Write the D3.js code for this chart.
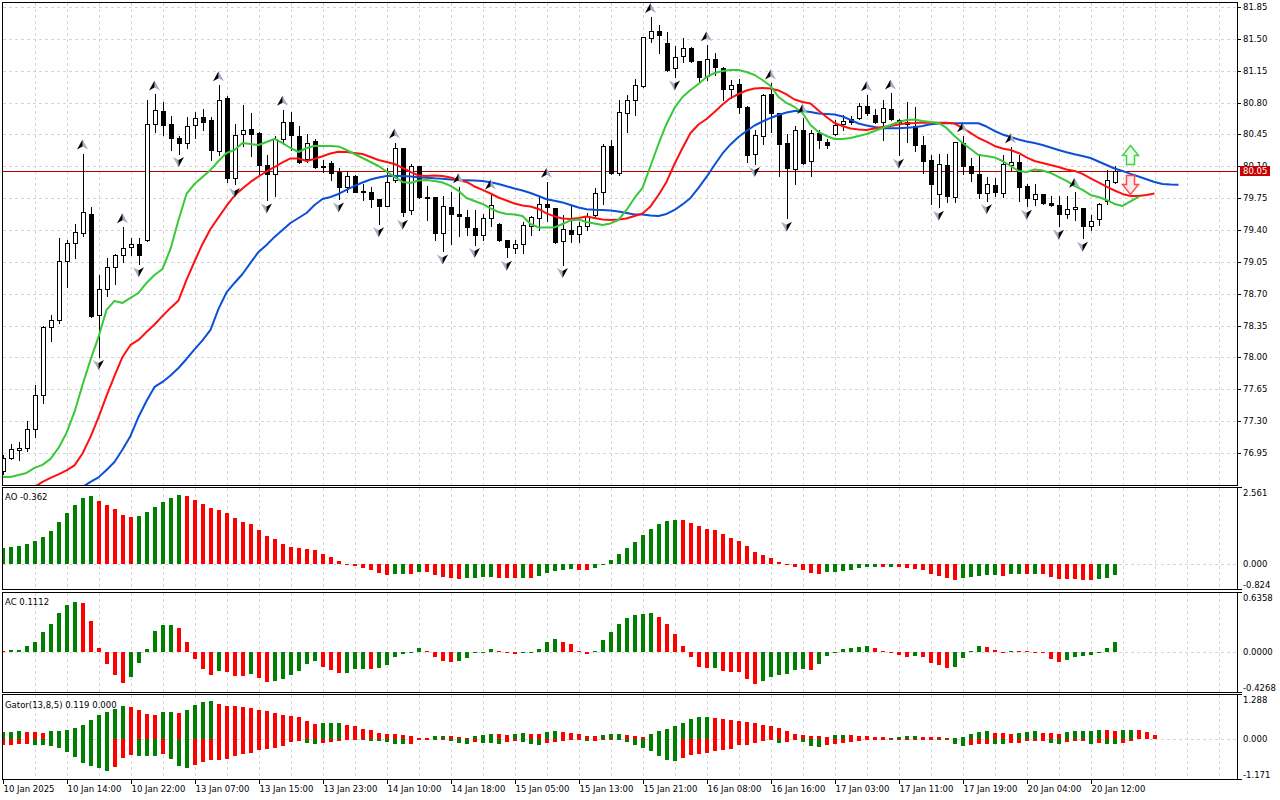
<!DOCTYPE html>
<html>
<head>
<meta charset="utf-8">
<script src="https://cdn.jsdelivr.net/npm/d3@7"></script>
<style>
  body { margin: 0; background: #fff; }
  text { font-family: "DejaVu Sans", Tahoma, sans-serif; font-size: 8.5px; fill: #000; }
</style>
</head>
<body>
<svg id="chart" width="1280" height="800"></svg>
<script>
// ---- data (hourly bars, index 0 = 10 Jan 06:00) ----
// [open, high, low, close]
var ohlc = [
  [76.75,76.93,76.72,76.89],[76.89,77.05,76.88,76.99],[76.98,77.07,76.87,77.01],[77.00,77.30,76.97,77.21],
  [77.21,77.70,77.13,77.59],[77.59,78.34,77.50,78.33],[78.33,78.47,78.18,78.41],[78.41,79.31,78.38,79.06],
  [79.06,79.29,78.77,79.26],[79.26,79.47,79.09,79.38],[79.37,80.24,79.33,79.60],[79.58,79.65,78.44,78.45],
  [78.47,78.91,78.01,78.75],[78.75,79.09,78.68,78.99],[78.99,79.14,78.81,79.12],[79.12,79.43,79.05,79.20],
  [79.21,79.31,79.13,79.25],[79.25,79.31,79.03,79.13],[79.29,80.83,79.28,80.56],[80.56,80.89,80.48,80.72],
  [80.71,80.81,80.44,80.55],[80.56,80.65,80.28,80.41],[80.41,80.43,80.24,80.36],[80.36,80.64,80.30,80.54],
  [80.55,80.70,80.41,80.63],[80.64,80.73,80.50,80.59],[80.61,80.64,80.17,80.28],[80.27,80.99,80.22,80.83],
  [80.85,80.87,79.93,79.97],[79.97,80.57,79.90,80.44],[80.45,80.77,80.32,80.50],[80.51,80.68,80.21,80.46],
  [80.47,80.48,80.02,80.11],[80.11,80.22,79.73,80.02],[80.01,80.43,79.77,80.40],[80.40,80.72,80.35,80.59],
  [80.59,80.70,80.28,80.44],[80.43,80.54,80.14,80.15],[80.18,80.46,80.15,80.36],[80.38,80.40,80.08,80.09],
  [80.10,80.17,80.04,80.09],[80.14,80.16,79.95,80.03],[80.04,80.08,79.74,79.87],[79.87,80.04,79.82,79.99],
  [79.99,80.00,79.82,79.82],[79.83,79.90,79.73,79.82],[79.82,79.87,79.65,79.74],[79.74,79.74,79.47,79.66],
  [79.66,80.08,79.66,79.93],[79.95,80.36,79.93,80.30],[80.30,80.30,79.55,79.60],[79.62,80.13,79.58,80.10],
  [80.10,80.10,79.75,79.76],[79.76,79.88,79.51,79.75],[79.76,79.76,79.29,79.37],[79.37,79.77,79.17,79.66],
  [79.65,79.82,79.25,79.58],[79.58,79.87,79.33,79.55],[79.54,79.62,79.35,79.43],[79.42,79.62,79.24,79.35],
  [79.35,79.58,79.29,79.53],[79.53,79.80,79.44,79.67],[79.47,79.48,79.28,79.29],[79.29,79.29,79.10,79.21],
  [79.20,79.29,79.15,79.25],[79.25,79.49,79.15,79.46],[79.44,79.55,79.35,79.54],[79.53,79.77,79.40,79.69],
  [79.69,79.93,79.50,79.65],[79.64,79.64,79.26,79.27],[79.28,79.57,79.02,79.41],[79.40,79.66,79.27,79.36],
  [79.36,79.49,79.27,79.44],[79.44,79.59,79.40,79.55],[79.56,79.86,79.55,79.81],[79.82,80.35,79.69,80.32],
  [80.32,80.39,80.01,80.03],[80.03,80.83,80.00,80.70],[80.69,80.88,80.48,80.83],[80.83,81.06,80.66,80.99],
  [80.98,81.52,80.97,81.52],[81.51,81.74,81.46,81.59],[81.59,81.65,81.35,81.54],[81.45,81.58,81.15,81.16],
  [81.18,81.42,81.08,81.30],[81.31,81.51,81.25,81.40],[81.40,81.41,81.25,81.26],[81.26,81.26,81.04,81.08],
  [81.09,81.43,81.05,81.28],[81.28,81.35,81.10,81.19],[81.18,81.19,80.83,80.95],[80.95,81.05,80.85,80.99],
  [81.00,81.06,80.69,80.75],[80.75,80.76,80.15,80.22],[80.23,80.50,80.13,80.44],[80.43,80.89,80.35,80.88],
  [80.89,81.01,80.48,80.69],[80.68,80.69,79.99,80.35],[80.36,80.46,79.53,80.08],[80.07,80.54,79.91,80.50],
  [80.50,80.63,80.13,80.14],[80.16,80.50,79.99,80.47],[80.47,80.50,80.30,80.39],[80.37,80.40,80.30,80.33],
  [80.46,80.61,80.44,80.55],[80.56,80.66,80.50,80.60],[80.62,80.65,80.57,80.59],[80.63,80.79,80.62,80.76],
  [80.76,80.88,80.66,80.68],[80.66,80.73,80.58,80.59],[80.59,80.83,80.39,80.74],[80.73,80.90,80.61,80.62],
  [80.61,80.62,80.22,80.59],[80.59,80.81,80.37,80.57],[80.54,80.75,80.27,80.33],[80.33,80.43,80.03,80.16],
  [80.17,80.22,79.69,79.91],[79.80,80.24,79.65,80.13],[80.11,80.24,79.71,79.77],[79.76,80.37,79.71,80.37],
  [80.36,80.43,80.02,80.10],[80.10,80.19,79.94,80.03],[80.02,80.24,79.75,79.81],[79.81,79.98,79.72,79.90],
  [79.89,79.97,79.77,79.82],[79.81,80.22,79.76,80.13],[80.11,80.31,80.06,80.15],[80.15,80.22,79.72,79.87],
  [79.88,79.91,79.66,79.75],[79.74,79.90,79.68,79.80],[79.80,79.80,79.69,79.70],[79.70,79.77,79.66,79.68],
  [79.68,79.77,79.44,79.58],[79.58,79.77,79.53,79.63],[79.63,79.82,79.51,79.65],[79.64,79.64,79.31,79.44],
  [79.44,79.57,79.40,79.50],[79.52,79.70,79.46,79.69],[79.72,80.06,79.69,79.95],[79.93,80.10,79.92,80.05]
];
var lastPrice = 80.05;

// Alligator lines (already shifted as drawn); first bar index of each
var lipsFrom = 0;
var lips = [
  76.687,76.687,76.709,76.731,76.786,76.819,76.885,77.006,77.170,77.401,
  77.698,77.973,78.225,78.522,78.621,78.599,78.654,78.708,78.818,78.906,
  78.972,79.192,79.510,79.796,79.906,79.983,80.060,80.158,80.246,80.279,
  80.356,80.345,80.334,80.367,80.400,80.356,80.301,80.257,80.301,80.323,
  80.323,80.323,80.318,80.279,80.235,80.191,80.147,80.103,80.043,79.983,
  79.928,79.917,79.944,79.950,79.939,79.922,79.884,79.829,79.752,79.719,
  79.686,79.637,79.598,79.576,79.571,79.554,79.466,79.428,79.428,79.428,
  79.466,79.505,79.516,79.488,79.472,79.455,79.472,79.510,79.620,79.752,
  79.862,80.103,80.345,80.565,80.741,80.861,80.938,81.004,81.081,81.125,
  81.147,81.158,81.158,81.136,81.103,81.048,80.982,80.861,80.796,80.752,
  80.686,80.554,80.477,80.433,80.400,80.400,80.411,80.433,80.455,80.488,
  80.521,80.554,80.587,80.609,80.614,80.598,80.587,80.576,80.521,80.433,
  80.356,80.290,80.224,80.213,80.197,80.158,80.103,80.049,80.038,80.065,
  80.054,80.027,79.983,79.939,79.884,79.840,79.785,79.763,79.730,79.686,
  79.664,79.714,79.763
];
var teethFrom = 3;
var teeth = [
  76.544,76.577,76.632,76.676,76.715,76.759,76.814,
  76.945,77.127,77.341,77.577,77.797,78.005,78.137,78.192,78.280,78.362,
  78.456,78.544,78.626,78.851,79.054,79.247,79.411,79.538,79.664,79.779,
  79.856,79.928,79.988,80.043,80.092,80.142,80.186,80.186,80.158,80.180,
  80.210,80.240,80.260,80.257,80.246,80.235,80.202,80.169,80.147,80.125,
  80.082,80.038,79.999,79.994,79.999,79.994,79.977,79.950,79.928,79.878,
  79.840,79.801,79.757,79.724,79.691,79.670,79.659,79.631,79.582,79.549,
  79.527,79.521,79.532,79.549,79.532,79.516,79.510,79.516,79.527,79.554,
  79.582,79.659,79.785,79.928,80.125,80.301,80.466,80.559,80.620,80.697,
  80.779,80.850,80.894,80.933,80.955,80.960,80.955,80.933,80.889,80.834,
  80.806,80.790,80.713,80.642,80.576,80.543,80.515,80.504,80.499,80.515,
  80.532,80.543,80.559,80.573,80.576,80.581,80.579,80.579,80.579,80.570,
  80.521,80.466,80.411,80.370,80.323,80.296,80.279,80.246,80.197,80.158,
  80.136,80.114,80.092,80.065,80.049,80.016,79.968,79.922,79.876,79.834,
  79.796,79.774,79.774,79.785,79.801
];
var jawFrom = 10;
var jaw = [
  76.577,76.632,76.682,76.764,76.852,76.989,77.138,77.346,77.522,77.676,
  77.731,77.802,77.884,77.983,78.088,78.187,78.302,78.533,78.714,78.818,
  78.917,79.038,79.159,79.236,79.324,79.401,79.477,79.532,79.587,79.675,
  79.741,79.763,79.796,79.840,79.884,79.922,79.955,79.977,79.994,79.994,
  79.994,79.988,79.979,79.975,79.968,79.963,79.956,79.950,79.947,79.944,
  79.939,79.924,79.906,79.881,79.856,79.834,79.807,79.774,79.738,79.722,
  79.703,79.675,79.648,79.628,79.623,79.620,79.615,79.604,79.587,79.571,
  79.571,79.560,79.554,79.576,79.620,79.681,79.752,79.862,79.983,80.114,
  80.241,80.340,80.422,80.488,80.548,80.592,80.631,80.664,80.691,80.708,
  80.708,80.697,80.680,80.675,80.669,80.647,80.609,80.570,80.548,80.532,
  80.518,80.518,80.518,80.524,80.529,80.543,80.562,80.570,80.573,80.573,
  80.573,80.573,80.573,80.537,80.488,80.450,80.422,80.395,80.373,80.356,
  80.334,80.307,80.279,80.254,80.232,80.213,80.191,80.153,80.114,80.076,
  80.049,80.016,79.988,79.957,79.928,79.906,79.900,79.898
];

// Bill Williams fractals (bar indices)
var fractalsUp = [10,15,19,27,35,49,57,61,68,81,88,96,100,108,111,120,126,134];
var fractalsDown = [12,17,22,29,33,42,47,50,55,59,63,70,84,94,98,112,117,123,128,132,135];

// signal arrows at the right end
var buySignals = [{ bar: 141, price: 80.12 }];
var sellSignals = [{ bar: 141, price: 80.00 }];

// Awesome Oscillator
var ao = [
  0.56,0.59,0.63,0.68,0.78,0.93,1.12,1.43,1.72,1.99,
  2.23,2.29,2.13,1.99,1.85,1.65,1.59,1.62,1.77,1.94,
  2.10,2.21,2.32,2.29,2.15,2.02,1.89,1.82,1.72,1.55,
  1.42,1.34,1.15,0.95,0.85,0.70,0.59,0.54,0.51,0.48,
  0.35,0.26,0.11,0.01,-0.04,-0.11,-0.20,-0.29,-0.36,-0.32,
  -0.31,-0.32,-0.25,-0.27,-0.36,-0.41,-0.45,-0.49,-0.47,-0.45,
  -0.42,-0.41,-0.44,-0.45,-0.46,-0.44,-0.45,-0.38,-0.28,-0.22,
  -0.19,-0.16,-0.18,-0.19,-0.13,-0.01,0.15,0.35,0.56,0.76,
  0.98,1.20,1.35,1.45,1.50,1.49,1.39,1.30,1.20,1.15,
  1.02,0.88,0.79,0.61,0.41,0.31,0.21,0.08,-0.03,-0.08,
  -0.18,-0.29,-0.31,-0.25,-0.24,-0.21,-0.18,-0.13,-0.09,-0.07,
  -0.08,-0.07,-0.10,-0.13,-0.14,-0.18,-0.32,-0.38,-0.45,-0.51,
  -0.47,-0.41,-0.38,-0.36,-0.35,-0.38,-0.33,-0.31,-0.32,-0.31,
  -0.33,-0.41,-0.48,-0.49,-0.50,-0.51,-0.52,-0.48,-0.45,-0.362
];
// Accelerator Oscillator
var ac = [
  0.018,0.025,0.027,0.070,0.115,0.215,0.300,0.425,0.510,0.544,
  0.533,0.340,0.050,-0.130,-0.240,-0.333,-0.261,-0.118,0.039,0.225,
  0.288,0.291,0.258,0.107,-0.072,-0.179,-0.243,-0.200,-0.215,-0.254,
  -0.255,-0.233,-0.275,-0.318,-0.308,-0.286,-0.243,-0.200,-0.125,-0.093,
  -0.157,-0.190,-0.222,-0.221,-0.179,-0.178,-0.180,-0.168,-0.136,-0.054,
  -0.015,-0.011,0.050,0.018,-0.054,-0.093,-0.104,-0.090,-0.064,-0.011,
  -0.004,0.036,0.018,0.000,-0.018,0.000,0.004,0.036,0.115,0.147,
  0.115,0.086,0.015,-0.018,0.018,0.136,0.215,0.308,0.372,0.397,
  0.408,0.426,0.383,0.308,0.200,0.072,-0.054,-0.154,-0.172,-0.165,
  -0.197,-0.215,-0.216,-0.290,-0.343,-0.311,-0.261,-0.247,-0.236,-0.193,
  -0.182,-0.193,-0.129,-0.039,0.007,0.039,0.050,0.055,0.072,0.050,
  0.018,0.004,-0.029,-0.054,-0.039,-0.054,-0.118,-0.140,-0.165,-0.154,
  -0.065,0.018,0.072,0.061,0.029,0.000,0.018,0.014,0.010,0.007,
  0.000,-0.075,-0.107,-0.086,-0.054,-0.039,-0.029,0.000,0.050,0.1112
];
// Gator oscillator, upper and lower histograms
var gatorUp = [
  0.20,0.21,0.24,0.21,0.20,0.19,0.23,0.24,0.26,0.33,
  0.42,0.56,0.71,0.82,0.89,1.00,0.96,0.86,0.76,0.73,
  0.80,0.81,0.77,0.88,1.01,1.10,1.13,1.06,0.99,0.98,
  0.97,0.92,0.86,0.83,0.77,0.73,0.68,0.66,0.53,0.46,
  0.47,0.475,0.48,0.42,0.38,0.29,0.27,0.19,0.16,0.14,
  0.12,0.08,0.02,0.015,0.08,0.085,0.08,0.05,0.02,0.08,
  0.12,0.14,0.135,0.13,0.14,0.17,0.145,0.14,0.20,0.23,
  0.20,0.165,0.135,0.08,0.075,0.11,0.14,0.145,0.11,0.08,
  0.05,0.14,0.23,0.30,0.39,0.47,0.59,0.65,0.655,0.62,
  0.59,0.56,0.53,0.50,0.47,0.42,0.39,0.32,0.23,0.14,
  0.11,0.08,0.075,0.05,0.11,0.115,0.11,0.08,0.075,0.05,
  0.045,0.02,0.05,0.08,0.085,0.07,0.05,0.045,0.03,0.035,
  0.05,0.14,0.20,0.23,0.17,0.165,0.16,0.17,0.20,0.23,
  0.17,0.165,0.16,0.20,0.23,0.235,0.24,0.26,0.255,0.25,
  0.26,0.265,0.26,0.20,0.119
];
var gatorDown = [
  -0.19,-0.17,-0.15,-0.145,-0.18,-0.185,-0.20,-0.27,-0.39,-0.54,
  -0.71,-0.81,-0.87,-0.95,-0.84,-0.57,-0.47,-0.50,-0.52,-0.525,
  -0.45,-0.60,-0.82,-0.87,-0.77,-0.69,-0.64,-0.63,-0.59,-0.52,
  -0.45,-0.42,-0.32,-0.29,-0.285,-0.20,-0.10,-0.07,-0.13,-0.15,
  -0.11,-0.08,-0.05,-0.02,-0.015,-0.04,-0.05,-0.07,-0.09,-0.14,
  -0.15,-0.14,-0.02,-0.01,-0.045,-0.04,-0.07,-0.12,-0.15,-0.10,
  -0.13,-0.135,-0.14,-0.08,-0.07,-0.09,-0.15,-0.18,-0.11,-0.09,
  -0.07,-0.04,-0.02,-0.07,-0.065,-0.03,-0.01,-0.02,-0.09,-0.19,
  -0.27,-0.37,-0.52,-0.64,-0.67,-0.57,-0.48,-0.46,-0.43,-0.37,
  -0.33,-0.29,-0.18,-0.17,-0.12,-0.05,-0.03,-0.12,-0.09,-0.03,
  -0.09,-0.21,-0.25,-0.18,-0.15,-0.12,-0.09,-0.06,-0.03,-0.02,
  -0.01,-0.045,-0.04,-0.02,-0.01,-0.008,-0.005,-0.02,-0.04,-0.15,
  -0.21,-0.18,-0.16,-0.14,-0.145,-0.15,-0.12,-0.115,-0.07,-0.065,
  -0.06,-0.13,-0.14,-0.09,-0.07,-0.065,-0.14,-0.12,-0.15,-0.155,
  -0.12,-0.07,0,0,0
];
// colour of the very first bar of each histogram (no earlier bar visible)
var firstColor = { ao: "green", ac: "red", gatorUp: "green", gatorDown: "red" };

// axis labels
var priceTicks = [81.85,81.50,81.15,80.80,80.45,80.10,79.75,79.40,79.05,78.70,78.35,78.00,77.65,77.30,76.95];
var timeLabels = ["10 Jan 2025","10 Jan 14:00","10 Jan 22:00","13 Jan 07:00","13 Jan 15:00","13 Jan 23:00",
  "14 Jan 10:00","14 Jan 18:00","15 Jan 05:00","15 Jan 13:00","15 Jan 21:00","16 Jan 08:00",
  "16 Jan 16:00","17 Jan 03:00","17 Jan 11:00","17 Jan 19:00","20 Jan 04:00","20 Jan 12:00"];
var timeLabelBars = [0,8,16,24,32,40,48,56,64,72,80,88,96,104,112,120,128,136];
var aoTicks = [2.561, 0, -0.824], aoTickText = ["2.561","0.000","-0.824"];
var acTicks = [0.6358, 0, -0.4268], acTickText = ["0.6358","0.0000","-0.4268"];
var gatorTicks = [1.288, 0, -1.171], gatorTickText = ["1.288","0.000","-1.171"];

// ---- layout ----
var GREEN = "#008000", RED = "#ff0000";
var left = 2, right = 1237;
var pMain = { top: 2, bottom: 485 };
var pAO = { top: 487, bottom: 589 };
var pAC = { top: 592, bottom: 692 };
var pGator = { top: 694, bottom: 779 };
var lastGridBar = 152;

var svg = d3.select("#chart");

var x = d3.scaleLinear().domain([0, 1]).range([2.5, 10.5]);
var y = d3.scaleLinear().domain([76.95, 81.85]).range([453, 7]);
var yAO = d3.scaleLinear().domain([-0.824, 2.561]).range([589, 488]);
var yAC = d3.scaleLinear().domain([-0.4268, 0.6358]).range([692, 593]);
var yGator = d3.scaleLinear().domain([-1.171, 1.288]).range([778, 696]);

function px(v) { return Math.round(v) + 0.5; }

svg.append("rect").attr("width", 1280).attr("height", 800).attr("fill", "#fff");

var defs = svg.append("defs");
function clip(id, p) {
  defs.append("clipPath").attr("id", id).append("rect")
    .attr("x", left + 1).attr("y", p.top + 1)
    .attr("width", right - left - 1).attr("height", p.bottom - p.top - 1);
}
clip("cMain", pMain); clip("cAO", pAO); clip("cAC", pAC); clip("cGator", pGator);

// ---- grid ----
var gridBars = d3.range(4, lastGridBar + 1, 4);
var grid = svg.append("g").attr("stroke", "#d6d6d6").attr("stroke-dasharray", "3,3")
  .attr("shape-rendering", "crispEdges");
[pMain, pAO, pAC, pGator].forEach(function(p) {
  grid.selectAll(null).data(gridBars).enter().append("line")
    .attr("x1", function(d) { return px(x(d)); }).attr("x2", function(d) { return px(x(d)); })
    .attr("y1", p.top + 1).attr("y2", p.bottom);
});
grid.selectAll(null).data(priceTicks).enter().append("line")
  .attr("x1", left + 1).attr("x2", right)
  .attr("y1", function(d) { return px(y(d)); }).attr("y2", function(d) { return px(y(d)); });
[[yAO, pAO], [yAC, pAC], [yGator, pGator]].forEach(function(s) {
  grid.append("line").attr("x1", left + 1).attr("x2", right)
    .attr("y1", px(s[0](0))).attr("y2", px(s[0](0)));
});

// ---- main panel ----
var main = svg.append("g").attr("clip-path", "url(#cMain)");

main.append("line").attr("x1", left).attr("x2", right)
  .attr("y1", px(y(lastPrice))).attr("y2", px(y(lastPrice)))
  .attr("stroke", "#b80000").attr("shape-rendering", "crispEdges");

var cg = main.append("g").attr("shape-rendering", "crispEdges");
ohlc.forEach(function(d, i) {
  var cx = px(x(i));
  cg.append("line").attr("x1", cx).attr("x2", cx)
    .attr("y1", Math.round(y(d[1]))).attr("y2", Math.round(y(d[2])) + 1).attr("stroke", "#000");
  var t = Math.round(y(Math.max(d[0], d[3]))), b = Math.round(y(Math.min(d[0], d[3])));
  var up = d[3] >= d[0];
  cg.append("rect").attr("x", cx - 2).attr("y", t + 0.5)
    .attr("width", 4).attr("height", Math.max(b - t, 0))
    .attr("fill", up ? "#fff" : "#000").attr("stroke", "#000");
});

var line = d3.line().x(function(d) { return x(d[0]); }).y(function(d) { return y(d[1]); });
function series(vals, from) { return vals.map(function(v, k) { return [from + k, v]; }); }
[[jaw, jawFrom, "#0b4fd6"], [teeth, teethFrom, "#ff1010"], [lips, lipsFrom, "#38c838"]].forEach(function(s) {
  main.append("path").datum(series(s[0], s[1])).attr("d", line)
    .attr("fill", "none").attr("stroke", s[2]).attr("stroke-width", 2)
    .attr("stroke-linejoin", "round");
});

// fractal arrows
var fg = main.append("g");
fractalsUp.forEach(function(i) {
  var g = fg.append("g").attr("transform", "translate(" + x(i) + "," + (y(ohlc[i][1]) - 9) + ")");
  g.append("path").attr("d", "M0,-5L5.5,5L0,2Z").attr("fill", "#9fb0c6");
  g.append("path").attr("d", "M0,-5L0,2L-5.5,5Z").attr("fill", "#000");
});
fractalsDown.forEach(function(i) {
  var g = fg.append("g").attr("transform", "translate(" + x(i) + "," + (y(ohlc[i][2]) + 8.5) + ")");
  g.append("path").attr("d", "M0,5L-5.5,-5L0,-2Z").attr("fill", "#9fb0c6");
  g.append("path").attr("d", "M0,5L0,-2L5.5,-5Z").attr("fill", "#000");
});

// buy / sell arrows
buySignals.forEach(function(s) {
  main.append("path").attr("transform", "translate(" + x(s.bar) + "," + y(s.price) + ")")
    .attr("d", "M-4,0L4,0L4,-9L8,-9L0,-19L-8,-9L-4,-9Z")
    .attr("fill", "#eaffea").attr("stroke", "#4ccc4c").attr("stroke-width", 1.5);
});
sellSignals.forEach(function(s) {
  main.append("path").attr("transform", "translate(" + x(s.bar) + "," + y(s.price) + ")")
    .attr("d", "M-4,0L4,0L4,9L8,9L0,19L-8,9L-4,9Z")
    .attr("fill", "#ffeaea").attr("stroke", "#ff4a4a").attr("stroke-width", 1.5);
});

// ---- histograms ----
function histogram(clipId, vals, scale, first, byAbs) {
  var g = svg.append("g").attr("clip-path", "url(#" + clipId + ")").attr("shape-rendering", "crispEdges");
  var z = Math.round(scale(0));
  vals.forEach(function(v, i) {
    if (v === 0 && byAbs) return;
    var col;
    if (i === 0) col = first === "green" ? GREEN : RED;
    else {
      var a = byAbs ? Math.abs(v) : v, p = byAbs ? Math.abs(vals[i - 1]) : vals[i - 1];
      col = a > p ? GREEN : RED;
    }
    var yv = Math.round(scale(v));
    var top = Math.min(yv, z), h = Math.max(Math.abs(yv - z), 1);
    g.append("rect").attr("x", Math.round(x(i)) - 2).attr("y", top)
      .attr("width", 4).attr("height", h).attr("fill", col);
  });
}
histogram("cAO", ao, yAO, firstColor.ao, false);
histogram("cAC", ac, yAC, firstColor.ac, false);
histogram("cGator", gatorUp, yGator, firstColor.gatorUp, true);
histogram("cGator", gatorDown, yGator, firstColor.gatorDown, true);

// ---- frames ----
var frames = svg.append("g").attr("fill", "none").attr("stroke", "#000").attr("shape-rendering", "crispEdges");
[pMain, pAO, pAC, pGator].forEach(function(p) {
  frames.append("rect").attr("x", left + 0.5).attr("y", p.top + 0.5)
    .attr("width", right - left).attr("height", p.bottom - p.top);
});

// ---- right price axis ----
var ax = svg.append("g");
ax.selectAll(null).data(priceTicks).enter().append("line")
  .attr("x1", right).attr("x2", right + 4)
  .attr("y1", function(d) { return px(y(d)); }).attr("y2", function(d) { return px(y(d)); })
  .attr("stroke", "#000").attr("shape-rendering", "crispEdges");
ax.selectAll(null).data(priceTicks).enter().append("text")
  .attr("x", right + 6).attr("y", function(d) { return y(d); })
  .attr("dy", "0.35em").text(function(d) { return d.toFixed(2); });

var ly = y(lastPrice);
ax.append("rect").attr("x", right + 3).attr("y", Math.round(ly) - 5)
  .attr("width", 30).attr("height", 10).attr("fill", "#c80000");
ax.append("text").attr("x", right + 6).attr("y", ly).attr("dy", "0.35em")
  .style("fill", "#fff").text(lastPrice.toFixed(2));

function subAxis(p, scale, ticks, labels) {
  ax.append("line").attr("x1", right).attr("x2", right + 5).attr("y1", p.top + 0.5).attr("y2", p.top + 0.5)
    .attr("stroke", "#000").attr("shape-rendering", "crispEdges");
  ax.append("line").attr("x1", right).attr("x2", right + 5).attr("y1", p.bottom + 0.5).attr("y2", p.bottom + 0.5)
    .attr("stroke", "#000").attr("shape-rendering", "crispEdges");
  ticks.forEach(function(t, k) {
    var ty = k === 0 ? p.top + 6 : (k === ticks.length - 1 ? p.bottom - 4 : scale(t));
    ax.append("text").attr("x", right + 6).attr("y", ty).attr("dy", "0.35em").text(labels[k]);
  });
}
subAxis(pAO, yAO, aoTicks, aoTickText);
subAxis(pAC, yAC, acTicks, acTickText);
subAxis(pGator, yGator, gatorTicks, gatorTickText);

// ---- time axis ----
timeLabelBars.forEach(function(b, k) {
  var tx = px(x(b));
  ax.append("line").attr("x1", tx).attr("x2", tx).attr("y1", pGator.bottom).attr("y2", pGator.bottom + 5)
    .attr("stroke", "#000").attr("shape-rendering", "crispEdges");
  ax.append("text").attr("x", tx).attr("y", 789).attr("dy", "0.35em").text(timeLabels[k]);
});

// ---- indicator titles ----
svg.append("text").attr("x", 5).attr("y", 497).attr("dy", "0.35em").text("AO " + ao[ao.length - 1].toFixed(3));
svg.append("text").attr("x", 5).attr("y", 602).attr("dy", "0.35em").text("AC " + ac[ac.length - 1].toFixed(4));
svg.append("text").attr("x", 5).attr("y", 705).attr("dy", "0.35em")
  .text("Gator(13,8,5) " + gatorUp[gatorUp.length - 1].toFixed(3) + " " + gatorDown[gatorDown.length - 1].toFixed(3));
</script>
</body>
</html>
